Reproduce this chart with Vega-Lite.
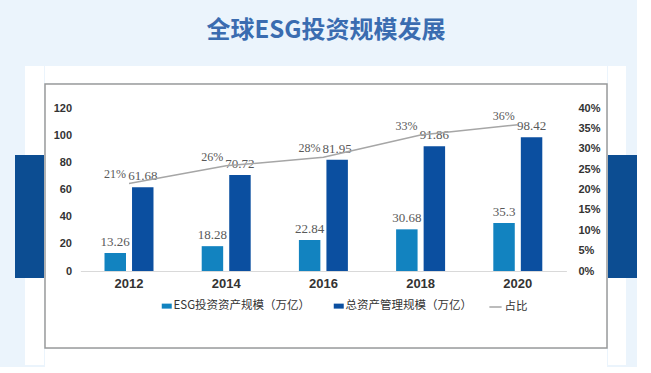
{
  "$schema": "https://vega.github.io/schema/vega-lite/v6.json",
  "background": "#EBF4FC",
  "padding": {"left": 15, "top": 19, "right": 0, "bottom": 0},
  "title": {"text": "全球ESG投资规模发展", "anchor": "middle", "font": "Noto Sans CJK SC", "fontSize": 24, "fontWeight": "bold", "color": "#3A6CB0", "offset": 23},
  "datasets": {
    "bars": [
      {"year": "2012", "series": "ESG投资资产规模（万亿）", "value": 13.26},
      {"year": "2012", "series": "总资产管理规模（万亿）", "value": 61.68},
      {"year": "2014", "series": "ESG投资资产规模（万亿）", "value": 18.28},
      {"year": "2014", "series": "总资产管理规模（万亿）", "value": 70.72},
      {"year": "2016", "series": "ESG投资资产规模（万亿）", "value": 22.84},
      {"year": "2016", "series": "总资产管理规模（万亿）", "value": 81.95},
      {"year": "2018", "series": "ESG投资资产规模（万亿）", "value": 30.68},
      {"year": "2018", "series": "总资产管理规模（万亿）", "value": 91.86},
      {"year": "2020", "series": "ESG投资资产规模（万亿）", "value": 35.3},
      {"year": "2020", "series": "总资产管理规模（万亿）", "value": 98.42}
    ],
    "ratio": [
      {"year": "2012", "series": "占比", "pct": 0.215, "label": "21%"},
      {"year": "2014", "series": "占比", "pct": 0.258, "label": "26%"},
      {"year": "2016", "series": "占比", "pct": 0.279, "label": "28%"},
      {"year": "2018", "series": "占比", "pct": 0.334, "label": "33%"},
      {"year": "2020", "series": "占比", "pct": 0.359, "label": "36%"}
    ]
  },
  "spacing": 0,
  "resolve": {"scale": {"color": "independent", "stroke": "independent"}},
  "hconcat": [
    {
      "spacing": 0,
      "vconcat": [
        {"width": 10, "height": 89, "data": {"values": []}, "mark": "rect", "encoding": {}},
        {"width": 10, "height": 123, "data": {"values": []}, "mark": "rect", "encoding": {}, "view": {"fill": "#0C4D92", "stroke": null}},
        {"width": 10, "height": 87, "data": {"values": []}, "mark": "rect", "encoding": {}}
      ]
    },
    {
      "spacing": 0,
      "vconcat": [
        {"width": 19, "height": 89, "data": {"values": []}, "mark": "rect", "encoding": {}, "view": {"fill": "#FFFFFF", "stroke": null}},
        {"width": 19, "height": 123, "data": {"values": []}, "mark": "rect", "encoding": {}, "view": {"fill": "#0C4D92", "stroke": null}},
        {"width": 19, "height": 87, "data": {"values": []}, "mark": "rect", "encoding": {}, "view": {"fill": "#FFFFFF", "stroke": null}}
      ]
    },
    {
      "spacing": 0,
      "resolve": {"scale": {"color": "independent", "stroke": "independent"}},
      "vconcat": [
        {"width": 562, "height": 17, "data": {"values": []}, "mark": "rect", "encoding": {}, "view": {"fill": "#FFFFFF", "stroke": null}},
        {
          "width": 562,
          "height": 264,
          "view": {"fill": "#FFFFFF", "stroke": "#9A9A9A", "strokeWidth": 1.5},
          "encoding": {
            "x": {
              "field": "year", "type": "nominal",
              "scale": {"range": [35.4, 521.4], "paddingInner": 0.496, "paddingOuter": 0.248},
              "axis": {"orient": "bottom", "offset": -77, "title": null, "domainColor": "#D9D9D9", "domainWidth": 1, "ticks": false, "grid": false, "labelAngle": 0, "labelFont": "Liberation Sans", "labelFontWeight": "bold", "labelFontSize": 13, "labelColor": "#333333", "labelPadding": 6}
            }
          },
          "layer": [
            {
              "data": {"name": "bars"},
              "encoding": {
                "xOffset": {"field": "series", "type": "nominal", "scale": {"domain": ["ESG投资资产规模（万亿）", "总资产管理规模（万亿）"], "paddingInner": 0.22, "paddingOuter": 0}},
                "y": {
                  "field": "value", "type": "quantitative",
                  "scale": {"domain": [0, 120], "range": [187, 24], "nice": false},
                  "axis": {"orient": "left", "offset": -28.5, "title": null, "domain": false, "ticks": false, "grid": false, "values": [0, 20, 40, 60, 80, 100, 120], "labelFont": "Liberation Sans", "labelFontWeight": "bold", "labelFontSize": 11, "labelColor": "#333333", "labelPadding": 2}
                }
              },
              "layer": [
                {
                  "mark": {"type": "bar"},
                  "encoding": {
                    "color": {
                      "field": "series", "type": "nominal",
                      "scale": {"domain": ["ESG投资资产规模（万亿）", "总资产管理规模（万亿）"], "range": ["#1283C0", "#0B4FA0"]},
                      "legend": {"orient": "none", "legendX": 116, "legendY": 216, "direction": "horizontal", "title": null, "symbolType": "M-1,-0.5H1V0.5H-1Z", "symbolSize": 100, "symbolStrokeWidth": 0, "labelFont": "Noto Sans CJK SC", "labelFontSize": 11.5, "labelColor": "#333333", "labelOffset": 1, "columnPadding": 22, "labelLimit": 300}
                    }
                  }
                },
                {
                  "mark": {"type": "text", "baseline": "bottom", "dy": -4, "font": "Liberation Sans Narrow", "fontSize": 13, "color": "#595959"},
                  "encoding": {"text": {"field": "value", "type": "nominal"}}
                }
              ]
            },
            {
              "data": {"name": "ratio"},
              "encoding": {
                "y": {
                  "field": "pct", "type": "quantitative",
                  "scale": {"domain": [0, 0.4], "range": [187, 24], "nice": false},
                  "axis": {"orient": "right", "offset": -31, "title": null, "domain": false, "ticks": false, "grid": false, "format": ".0%", "values": [0, 0.05, 0.1, 0.15, 0.2, 0.25, 0.3, 0.35, 0.4], "labelFont": "Liberation Sans", "labelFontWeight": "bold", "labelFontSize": 11, "labelColor": "#333333", "labelPadding": 2}
                }
              },
              "layer": [
                {
                  "mark": {"type": "line", "strokeWidth": 1.5},
                  "encoding": {
                    "stroke": {
                      "field": "series", "type": "nominal",
                      "scale": {"domain": ["占比"], "range": ["#A6A6A6"]},
                      "legend": {"orient": "none", "legendX": 443.5, "legendY": 216, "title": null, "symbolType": "stroke", "symbolSize": 150, "symbolStrokeWidth": 1.5, "labelFont": "Noto Sans CJK SC", "labelFontSize": 11.5, "labelColor": "#333333", "labelOffset": 2}
                    }
                  }
                },
                {
                  "mark": {"type": "text", "align": "center", "baseline": "middle", "dx": -14, "dy": -9, "font": "Liberation Sans Narrow", "fontSize": 12, "color": "#595959"},
                  "encoding": {"text": {"field": "label", "type": "nominal"}}
                }
              ]
            }
          ],
          "resolve": {"scale": {"y": "independent"}}
        },
        {"width": 562, "height": 18, "data": {"values": []}, "mark": "rect", "encoding": {}, "view": {"fill": "#FFFFFF", "stroke": null}}
      ]
    },
    {
      "spacing": 0,
      "vconcat": [
        {"width": 18, "height": 89, "data": {"values": []}, "mark": "rect", "encoding": {}, "view": {"fill": "#FFFFFF", "stroke": null}},
        {"width": 18, "height": 123, "data": {"values": []}, "mark": "rect", "encoding": {}, "view": {"fill": "#0C4D92", "stroke": null}},
        {"width": 18, "height": 87, "data": {"values": []}, "mark": "rect", "encoding": {}, "view": {"fill": "#FFFFFF", "stroke": null}}
      ]
    },
    {
      "spacing": 0,
      "vconcat": [
        {"width": 11, "height": 89, "data": {"values": []}, "mark": "rect", "encoding": {}},
        {"width": 11, "height": 123, "data": {"values": []}, "mark": "rect", "encoding": {}, "view": {"fill": "#0C4D92", "stroke": null}},
        {"width": 11, "height": 87, "data": {"values": []}, "mark": "rect", "encoding": {}}
      ]
    }
  ],
  "config": {"view": {"stroke": null}, "concat": {"spacing": 0}}
}
